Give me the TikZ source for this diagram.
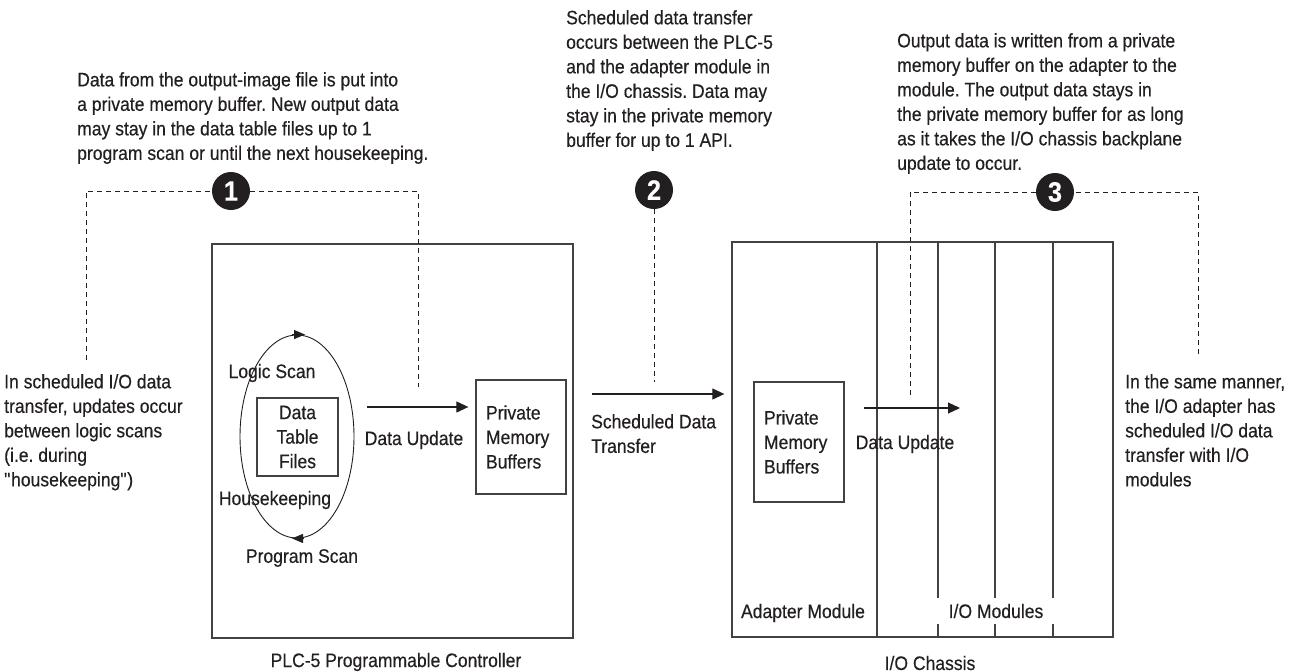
\documentclass[tikz,border=0pt]{standalone}
\usepackage{fontspec}
\setmainfont{Liberation Sans}[FakeStretch=0.9,FakeBold=0.4]
\usetikzlibrary{arrows.meta,shapes.geometric}
\definecolor{ink}{HTML}{231F20}
\frenchspacing
\begin{document}
\begin{tikzpicture}[x=1pt,y=-1pt,
  txt/.style={font=\fontsize{19.5}{24.5}\selectfont, text=ink, inner sep=0pt},
  para/.style={txt, align=left, anchor=north west},
  boxline/.style={draw=ink!85, line width=1.3pt},
  dashline/.style={draw=ink, line width=0.9pt, dash pattern=on 5pt off 4pt},
  arr/.style={draw=ink, line width=1.1pt, -{Triangle[length=12pt,width=11pt]}},
  callout/.style={circle, fill=ink, minimum size=38pt, inner sep=0pt, text=white, font=\fontsize{28}{28}\selectfont\bfseries},
]
\useasboundingbox (0,0) rectangle (1296,672);

% top paragraphs
\node[para] (t1) at (77,72) {Data from the output-image file is put into\\a private memory buffer. New output data\\may stay in the data table files up to 1\\program scan or until the next housekeeping.};
\node[para] (t2) at (566,10) {Scheduled data transfer\\occurs between the PLC-5\\and the adapter module in\\the I/O chassis. Data may\\stay in the private memory\\buffer for up to 1 API.};
\node[para] (t3) at (897,33) {Output data is written from a private\\memory buffer on the adapter to the\\module. The output data stays in\\the private memory buffer for as long\\as it takes the I/O chassis backplane\\update to occur.};

% side paragraphs
\node[para] (tl) at (4,374) {In scheduled I/O data\\transfer, updates occur\\between logic scans\\(i.e. during\\\textquotedbl housekeeping\textquotedbl)};
\node[para] (tr) at (1125,374) {In the same manner,\\the I/O adapter has\\scheduled I/O data\\transfer with I/O\\modules};

% PLC
\node[boxline, minimum width=361pt, minimum height=394pt, inner sep=0pt] (plc) at (392.5,441) {};
\node[txt] (plcl) at (396,662) {PLC-5 Programmable Controller};
\node[draw=ink, line width=0.9pt, ellipse, minimum width=114pt, minimum height=203pt, inner sep=0pt] (scan) at (297,436.5) {};
\draw[draw=ink, line width=0.9pt, -{Triangle[length=11pt,width=9pt]}] ([xshift=-5pt]scan.north) -- ([xshift=8pt]scan.north);
\draw[draw=ink, line width=0.9pt, -{Triangle[length=11pt,width=9pt]}] ([xshift=6pt]scan.south) -- ([xshift=-5pt]scan.south);
\node[txt] (ls) at (272,373) {Logic Scan};
\node[txt] (hk) at (275,500) {Housekeeping};
\node[txt] (ps) at (302,558) {Program Scan};
\node[boxline, txt, align=center, minimum width=81pt, minimum height=78pt] (dtf) at (297.5,437) {Data\\Table\\Files};
\node[boxline, txt, align=left, text width=70pt, minimum width=90pt, minimum height=114pt] (pmb1) at (521,437) {Private\\Memory\\Buffers};
\coordinate (du1s) at (367,407);
\draw[arr, shorten >=7pt] (du1s) -- (du1s -| pmb1.west);
\node[txt] (du1) at (414,440) {Data Update};

% scheduled transfer
\node[boxline, minimum width=381pt, minimum height=395pt, inner sep=0pt] (chassis) at (922.5,439.5) {};
\coordinate (st) at (573,394);
\draw[arr, shorten <=19pt, shorten >=7pt] (st) -- (st -| chassis.west);
\node[txt, align=left, anchor=north west] (stl) at (591,414) {Scheduled Data\\Transfer};

% chassis
\foreach \x in {877,938,995,1053} \draw[boxline] (\x,243) -- (\x,637);
\node[txt] (am) at (803,613) {Adapter Module};
\node[txt, fill=white, minimum width=121pt, minimum height=26pt] (iom) at (996,611) {I/O Modules};
\node[txt] (ioc) at (930,663) {I/O Chassis};
\node[boxline, txt, align=left, text width=70pt, minimum width=90pt, minimum height=120pt] (pmb2) at (799,442) {Private\\Memory\\Buffers};
\coordinate (du2e) at (960,408);
\draw[arr, shorten <=19pt] (du2e -| pmb2.east) -- (du2e);
\node[txt] (du2) at (905,444) {Data Update};

% callouts
\coordinate (c1p) at (231,191);
\draw[dashline] (86,360) |- (c1p) -| (418,387);
\node[callout] (c1) at (c1p) {1};
\node[callout] (c2) at (654,190) {2};
\draw[dashline] (c2) -- (654,382);
\coordinate (c3p) at (1055,192);
\draw[dashline] (910,395) |- (c3p) -| (1198,355);
\node[callout] (c3) at (c3p) {3};
\end{tikzpicture}
\end{document}
